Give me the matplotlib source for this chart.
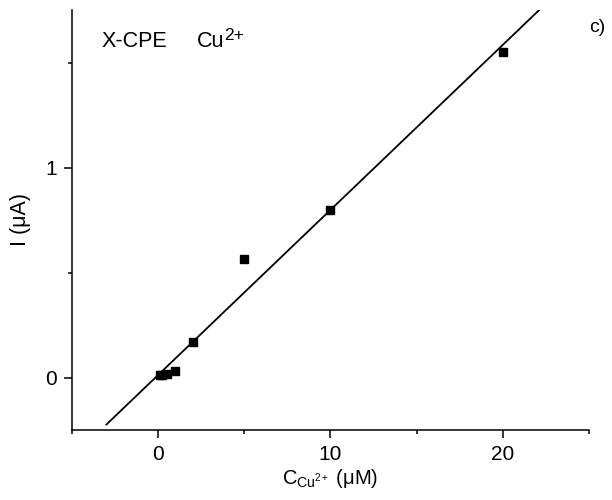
import matplotlib
matplotlib.use("Agg")
import matplotlib.pyplot as plt
import numpy as np
from matplotlib.ticker import MultipleLocator

plt.rcParams['font.family'] = ['Liberation Sans', 'DejaVu Sans']
plt.rcParams['mathtext.fontset'] = 'custom'
plt.rcParams['mathtext.rm'] = 'Liberation Sans'
plt.rcParams['mathtext.it'] = 'Liberation Sans'

# Data
conc = [0.1, 0.2, 0.5, 1.0, 2.0, 5.0, 10.0, 20.0]
current = [0.01, 0.01, 0.015, 0.03, 0.167, 0.562, 0.80, 1.548]
fit_slope = 0.0786
fit_intercept = 0.012
fit_x_range = [-3.0, 23.0]

fig = plt.figure(figsize=(6.12, 5.0), dpi=100)
ax = fig.add_axes([0.1176, 0.14, 0.8448, 0.84])

fx = np.array(fit_x_range)
ax.plot(fx, fit_slope * fx + fit_intercept, color='black', lw=1.3)
ax.plot(conc, current, 's', color='black', ms=6)

ax.set_xlim(-5, 25)
ax.set_ylim(-0.25, 1.75)
ax.xaxis.set_major_locator(MultipleLocator(10))
ax.xaxis.set_minor_locator(MultipleLocator(5))
ax.yaxis.set_major_locator(MultipleLocator(1))
ax.yaxis.set_minor_locator(MultipleLocator(0.5))

for s in ['top', 'right']:
    ax.spines[s].set_visible(False)
for s in ['left', 'bottom']:
    ax.spines[s].set_linewidth(1.1)

ax.tick_params(which='major', direction='out', length=6, width=1.1, labelsize=15, pad=5)
ax.tick_params(which='minor', direction='out', length=3, width=1.1)

ax.set_xlabel(r'C$_{\mathregular{Cu^{2+}}}$ (μM)', fontsize=14.5, labelpad=2)
ax.set_ylabel('I (μA)', fontsize=15.5, labelpad=10)

ax.text(0.058, 0.912, 'X-CPE', transform=ax.transAxes, fontsize=15.5,
        va='baseline', ha='left')
cu = ax.text(0.242, 0.912, 'Cu', transform=ax.transAxes, fontsize=15.5,
             va='baseline', ha='left')
ax.annotate('2+', xy=(1.0, 0.45), xycoords=cu, fontsize=12.5,
            va='bottom', ha='left')
fig.text(0.962, 0.945, 'c)', fontsize=14, ha='left', va='center')

fig.savefig('out.png', dpi=100)
